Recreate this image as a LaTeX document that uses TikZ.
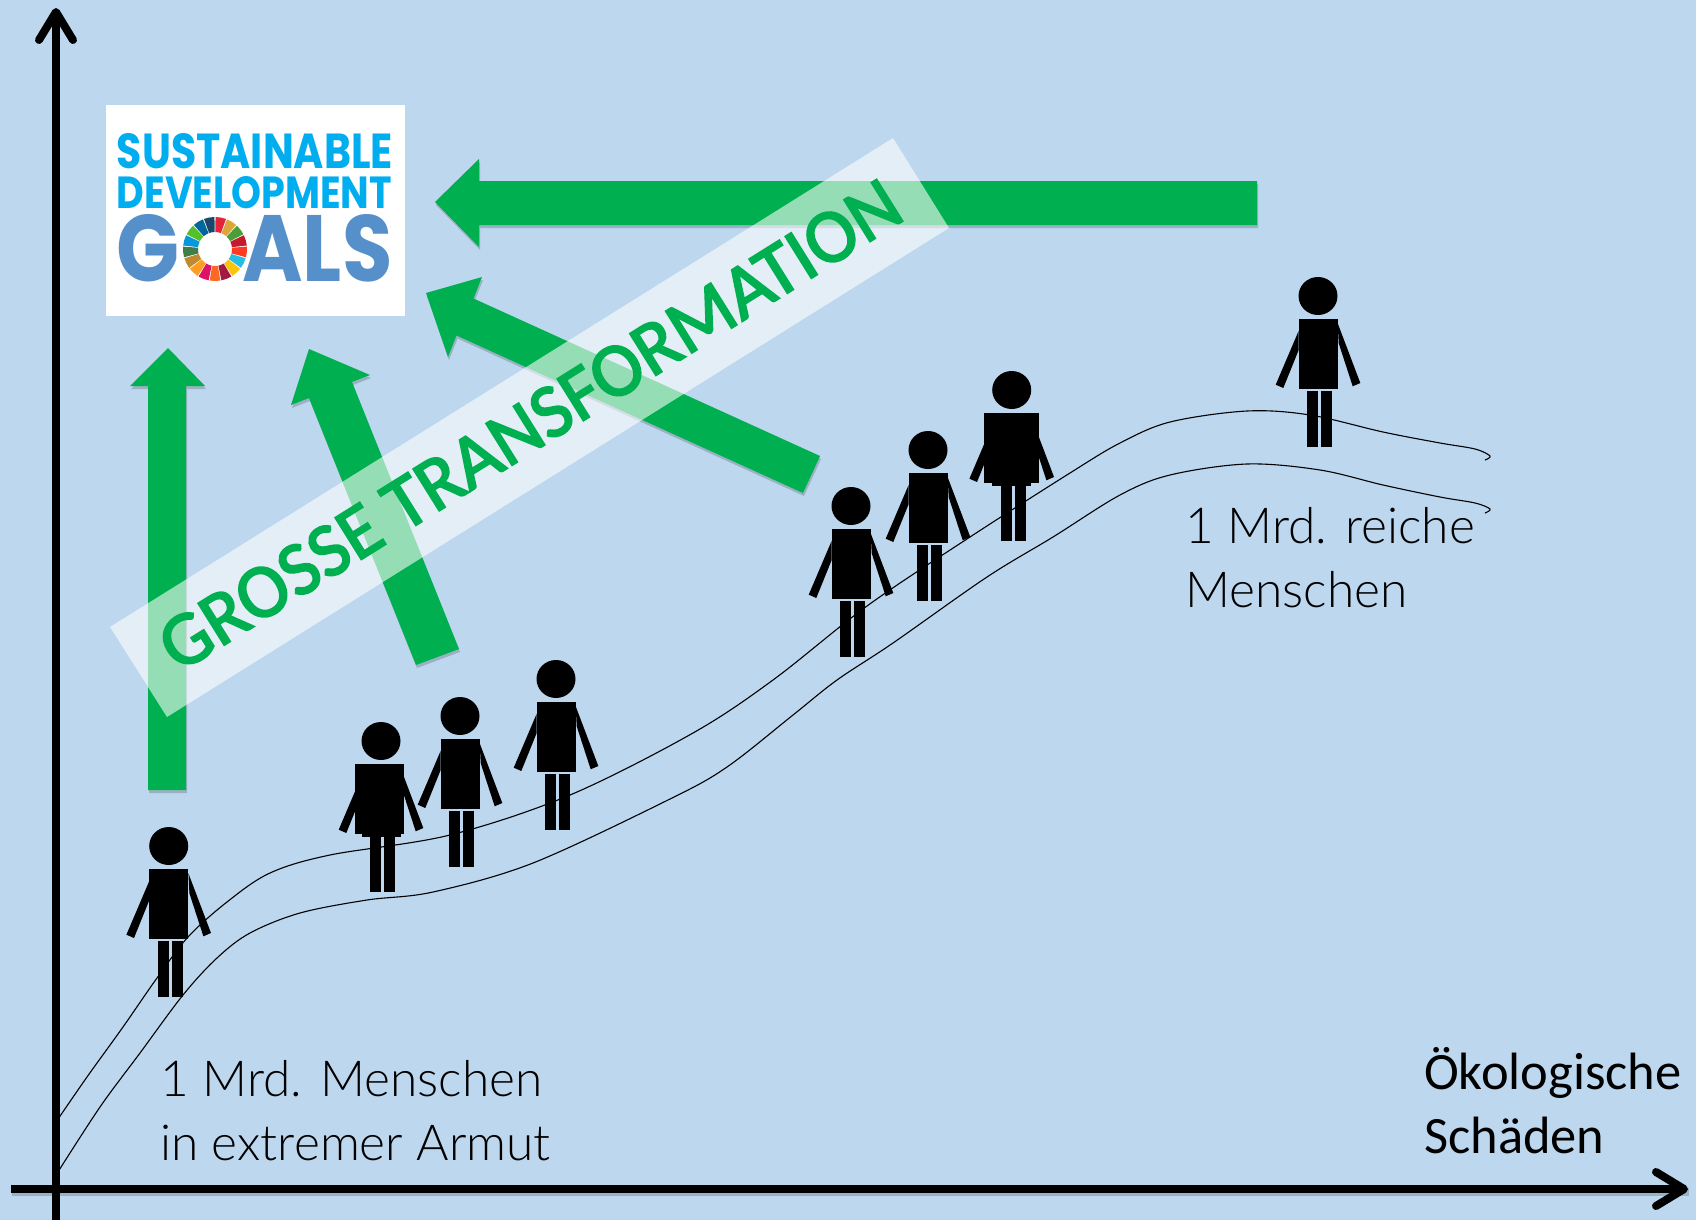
\documentclass[tikz,border=0pt]{standalone}
\usepackage{fontspec}
\usepackage{graphicx}
\usetikzlibrary{arrows.meta}
\setmainfont{Carlito}
\newfontfamily\lightfont{Lato Light}
\newfontfamily\bandfont{Carlito}[FakeBold=2.5]
\newfontfamily\logofont{Poppins}[BoldFont={Poppins Bold}]
\definecolor{bgblue}{RGB}{189,215,238}
\definecolor{sdggreen}{RGB}{0,176,80}
\definecolor{sdgcyan}{HTML}{00AEEF}
\definecolor{sdgblue}{HTML}{5690CB}
\definecolor{sdg1}{HTML}{E5243B}\definecolor{sdg2}{HTML}{DDA63A}\definecolor{sdg3}{HTML}{4C9F38}
\definecolor{sdg4}{HTML}{C5192D}\definecolor{sdg5}{HTML}{FF3A21}\definecolor{sdg6}{HTML}{26BDE2}
\definecolor{sdg7}{HTML}{FCC30B}\definecolor{sdg8}{HTML}{A21942}\definecolor{sdg9}{HTML}{FD6925}
\definecolor{sdg10}{HTML}{DD1367}\definecolor{sdg11}{HTML}{FD9D24}\definecolor{sdg12}{HTML}{BF8B2E}
\definecolor{sdg13}{HTML}{3F7E44}\definecolor{sdg14}{HTML}{0A97D9}\definecolor{sdg15}{HTML}{56C02B}
\definecolor{sdg16}{HTML}{00689D}\definecolor{sdg17}{HTML}{19486A}
\tikzset{
  axisline/.style={line width=8pt,black,-{Straight Barb[length=28pt,width=34pt,line width=8pt,round]}},
  axisshadow/.style={line width=8pt,black,opacity=.18},
  curveline/.style={line width=1.1pt,black},
  fatarrow/.style={fill=sdggreen},
  fatshadow/.style={fill=black,opacity=.18},
  lighttext/.style={anchor=north west,inner sep=0pt,align=left,text=black,font=\lightfont\fontsize{49.6}{64}\selectfont},
  axistext/.style={anchor=north west,inner sep=0pt,align=left,text=black,font=\fontsize{52.5}{64}\selectfont},
  logotext/.style={inner sep=0pt,font=\logofont\bfseries},
}
% head x, head y, body left, body right, body bottom at the middle
\newcommand{\stickman}[5]{%
  \begin{scope}[shift={(#1,#2)}]
    \fill[black] (0,0) ellipse [x radius=19.5,y radius=19];
    \fill[black] (#3,22.5) rectangle (#4,92.5);
    \fill[black] (-19.5,90) rectangle (19.5,#5);
    \fill[black] (-10.7,95) rectangle (0.3,151);
    \fill[black] (3.3,95) rectangle (14.3,151);
    \fill[black] (-19.3,34.7) -- (-42.3,88.7) -- (-34.7,92) -- (-19.3,54) -- cycle;
    \fill[black] (19.7,27.3) -- (42.3,87) -- (34.7,90.3) -- (20.7,47.3) -- cycle;
  \end{scope}}
\begin{document}
\begin{tikzpicture}[x=1pt,y=-1pt]
\useasboundingbox (0,0) rectangle (1696,1220);
\fill[bgblue] (0,0) rectangle (1696,1220);

% curves
\draw[curveline] plot[smooth,tension=0.55] coordinates {(56,1122) (87,1077) (123,1027) (157,978) (188,937) (227,902) (270,873) (330,855) (450,835) (570,795) (693,733) (773,680) (867,606) (970,537) (1070,473) (1120,443) (1170,422) (1247,411) (1310,415) (1383,432) (1440,443) (1475,449) (1490,456) (1485,460)};
\draw[curveline] plot[smooth,tension=0.55] coordinates {(56,1175) (100,1107) (140,1053) (183,995) (217,958) (250,933) (300,913) (367,900) (433,892) (533,863) (670,799) (727,767) (793,715) (837,680) (893,643) (987,577) (1053,537) (1120,495) (1170,475) (1247,464) (1320,470) (1383,485) (1440,497) (1475,503) (1490,509) (1485,513)};

% axes
\coordinate (xstart) at (11,1189);
\coordinate (xend) at (1688,1189);
\coordinate (ystart) at (56,1220);
\coordinate (yend) at (56,8);
\draw[axisshadow] ([shift={(1,3)}]xstart) -- ([shift={(1,3)}]xend);
\draw[axisline] (xstart) -- (xend);
\draw[axisline] (ystart) -- (yend);

% logo
\fill[white] (106,105) rectangle (405,316);
\node[logotext,text=sdgcyan] (logoa) at (255,151) {\resizebox{276pt}{35pt}{SUSTAINABLE}};
\node[logotext,text=sdgcyan] (logob) at (254.5,192.5) {\resizebox{275pt}{32pt}{DEVELOPMENT}};
\node[logotext,text=sdgblue] (logoc) at (148.5,248.5) {\resizebox{63pt}{67pt}{G}};
\node[logotext,text=sdgblue] (logod) at (317.5,248.5) {\resizebox{150pt}{67pt}{ALS}};
\begin{scope}[shift={(215,249)},yscale=-1]
  \foreach \i in {1,...,17}{
    \pgfmathsetmacro{\aa}{90-(\i-1)*21.176-1}
    \pgfmathsetmacro{\ab}{90-\i*21.176+1}
    \fill[sdg\i] (\aa:32) arc[start angle=\aa,end angle=\ab,radius=32] -- (\ab:17) arc[start angle=\ab,end angle=\aa,radius=17] -- cycle;
  }
\end{scope}

% green arrows
\foreach \sty/\sx/\sy in {fatshadow/1/3,fatarrow/0/0}{
  \begin{scope}[shift={(\sx,\sy)}]
  \path[\sty] (1257,181) -- (479,181) -- (479,159) -- (435,202) -- (479,247) -- (479,225) -- (1257,225) -- cycle;
  \path[\sty] (148,790) -- (148,386) -- (130,386) -- (168,348) -- (205,386) -- (186,386) -- (186,790) -- cycle;
  \path[\sty] (416,665) -- (309,398) -- (291,405) -- (309,349) -- (370,375) -- (352,382) -- (459,649) -- cycle;
  \path[\sty] (820,456) -- (473.5,298.5) -- (482,277) -- (426,293) -- (448,357) -- (456.5,335.5) -- (803,493) -- cycle;
  \end{scope}
}

% band
\fill[white,opacity=.58] (893,138) -- (949,228) -- (167,717) -- (110,627) -- cycle;
\node[inner sep=0pt,rotate=32,text=sdggreen,font=\bandfont\fontsize{76.5}{77}\selectfont] (band) at (530,425) {GROSSE TRANSFORMATION};

% people
\stickman{168.7}{846}{-19.5}{19.5}{92.5}
\stickman{381}{741}{-25.7}{23.3}{95.5}
\stickman{460}{716}{-19.5}{19.5}{92.5}
\stickman{556}{679}{-19.5}{19.5}{92.5}
\stickman{851}{506}{-19.5}{19.5}{92.5}
\stickman{928}{450}{-19.5}{19.5}{92.5}
\stickman{1011.7}{390}{-27.7}{27.3}{95.5}
\stickman{1318}{296}{-19.5}{19.5}{92.5}

% text
\node[lighttext] (poor) at (160,1060) {1 Mrd. Menschen\\in extremer Armut};
\node[lighttext] (rich) at (1185,507) {1 Mrd. reiche\\Menschen};
\node[axistext] (xlabel) at (1424,1047) {Ökologische\\Schäden};
\end{tikzpicture}
\end{document}
